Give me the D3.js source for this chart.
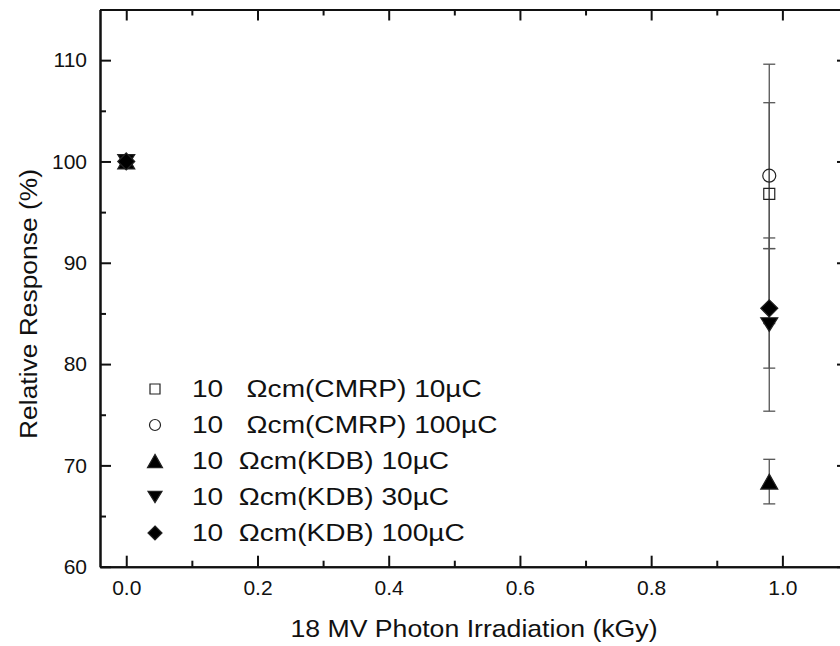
<!DOCTYPE html>
<html>
<head>
<meta charset="utf-8">
<script src="https://cdnjs.cloudflare.com/ajax/libs/d3/7.8.5/d3.min.js"></script>
<style>
  html, body { margin: 0; padding: 0; background: #ffffff; }
  svg { display: block; }
  text { font-family: "Liberation Sans", Arial, sans-serif; fill: #111; }
</style>
</head>
<body>
<svg id="chart" width="840" height="646"></svg>
<script>
// ---------------- data ----------------
const doses = [0, 0.98];
const seriesLabels = [
  "10   \u03A9cm(CMRP) 10\u00B5C",
  "10   \u03A9cm(CMRP) 100\u00B5C",
  "10  \u03A9cm(KDB) 10\u00B5C",
  "10  \u03A9cm(KDB) 30\u00B5C",
  "10  \u03A9cm(KDB) 100\u00B5C"
];
const seriesShapes = ["square", "circle", "triangleUp", "triangleDown", "diamond"];
const cmrp10 = [100, 96.8];
const cmrp10Err = [0, 12.8];
const cmrp100 = [100, 98.6];
const cmrp100Err = [0, 7.2];
const kdb10 = [100, 68.4];
const kdb10Err = [0, 2.2];
const kdb30 = [100, 83.9];
const kdb30Err = [0, 8.55];
const kdb100 = [100, 85.5];
const kdb100Err = [0, 5.9];
const xMajorTicks = [0, 0.2, 0.4, 0.6, 0.8, 1.0];
const xMinorTicks = [0.1, 0.3, 0.5, 0.7, 0.9, 1.1];
const yMajorTicks = [60, 70, 80, 90, 100, 110];
const yMinorTicks = [65, 75, 85, 95, 105, 115];
const xTitle = "18 MV Photon Irradiation (kGy)";
const yTitle = "Relative Response (%)";

const seriesValues = [cmrp10, cmrp100, kdb10, kdb30, kdb100];
const seriesErrors = [cmrp10Err, cmrp100Err, kdb10Err, kdb30Err, kdb100Err];

// ---------------- layout ----------------
const svg = d3.select("#chart");
const pLeft = 100, pRight = 848, pTop = 9.5, pBottom = 566.7;
const x = d3.scaleLinear().domain([-0.04, 1.1]).range([pLeft, pRight]);
const y = d3.scaleLinear().domain([60, 115]).range([pBottom, pTop]);

function shapePath(shape, s) {
  const h = s / 2;
  switch (shape) {
    case "square": return `M${-h},${-h}H${h}V${h}H${-h}Z`;
    case "circle": return d3.arc()({innerRadius: 0, outerRadius: h, startAngle: 0, endAngle: 2 * Math.PI});
    case "triangleUp": { const th = s * 0.88; return `M0,${-th/2}L${h},${th/2}L${-h},${th/2}Z`; }
    case "triangleDown": { const th = s * 0.8; return `M0,${th/2}L${h},${-th/2}L${-h},${-th/2}Z`; }
    case "diamond": return `M0,${-h}L${h},0L0,${h}L${-h},0Z`;
  }
}
const markerSize = {square: 11, circle: 13, triangleUp: 17, triangleDown: 17, diamond: 17};
const legendSize = {square: 10, circle: 11, triangleUp: 15, triangleDown: 14, diamond: 14};
const filled = {square: false, circle: false, triangleUp: true, triangleDown: true, diamond: true};

// ---------------- axes ----------------
const axisStyle = g => {
  g.selectAll(".domain").attr("stroke", "#111").attr("stroke-width", 2);
  g.selectAll(".tick line").attr("stroke", "#111").attr("stroke-width", 2);
  g.selectAll("text").attr("font-size", 21).attr("fill", "#111")
    .attr("font-family", "'Liberation Sans', Arial, sans-serif");
};

svg.append("g").attr("transform", `translate(0,${pBottom})`)
  .call(d3.axisBottom(x).tickValues(xMajorTicks).tickSize(-11).tickSizeOuter(0)
        .tickPadding(13).tickFormat(d3.format(".1f")))
  .call(axisStyle);
svg.append("g").attr("transform", `translate(0,${pBottom})`)
  .call(d3.axisBottom(x).tickValues(xMinorTicks).tickSize(-6).tickSizeOuter(0).tickFormat(""))
  .call(axisStyle);
svg.append("g").attr("transform", `translate(0,${pTop})`)
  .call(d3.axisTop(x).tickValues(xMajorTicks).tickSize(-11).tickSizeOuter(0).tickFormat(""))
  .call(axisStyle);
svg.append("g").attr("transform", `translate(0,${pTop})`)
  .call(d3.axisTop(x).tickValues(xMinorTicks).tickSize(-6).tickSizeOuter(0).tickFormat(""))
  .call(axisStyle);

svg.append("g").attr("transform", `translate(${pLeft},0)`)
  .call(d3.axisLeft(y).tickValues(yMajorTicks).tickSize(-11).tickSizeOuter(0)
        .tickPadding(13).tickFormat(d3.format("d")))
  .call(axisStyle);
svg.append("g").attr("transform", `translate(${pLeft},0)`)
  .call(d3.axisLeft(y).tickValues(yMinorTicks).tickSize(-6).tickSizeOuter(0).tickFormat(""))
  .call(axisStyle);
svg.append("g").attr("transform", `translate(${pRight},0)`)
  .call(d3.axisRight(y).tickValues(yMajorTicks).tickSize(-11).tickSizeOuter(0).tickFormat(""))
  .call(axisStyle);
svg.append("g").attr("transform", `translate(${pRight},0)`)
  .call(d3.axisRight(y).tickValues(yMinorTicks).tickSize(-6).tickSizeOuter(0).tickFormat(""))
  .call(axisStyle);

// axis titles
svg.append("text")
  .attr("transform", `translate(${(pLeft + pRight) / 2},637) scale(1.11,1)`)
  .attr("text-anchor", "middle").attr("font-size", 24)
  .text(xTitle);
svg.append("text")
  .attr("transform", `translate(37,304) rotate(-90) scale(1.1,1)`)
  .attr("text-anchor", "middle").attr("font-size", 24)
  .text(yTitle);

// ---------------- error bars ----------------
const plot = svg.append("g");
seriesValues.forEach((vals, si) => {
  vals.forEach((v, i) => {
    const e = seriesErrors[si][i];
    if (!e) return;
    const cx = x(doses[i]);
    const g = plot.append("g").attr("stroke", "#555").attr("stroke-width", 1.3);
    g.append("line").attr("x1", cx).attr("x2", cx).attr("y1", y(v - e)).attr("y2", y(v + e));
    g.append("line").attr("x1", cx - 6).attr("x2", cx + 6).attr("y1", y(v - e)).attr("y2", y(v - e));
    g.append("line").attr("x1", cx - 6).attr("x2", cx + 6).attr("y1", y(v + e)).attr("y2", y(v + e));
  });
});

// ---------------- markers ----------------
seriesValues.forEach((vals, si) => {
  const shape = seriesShapes[si];
  vals.forEach((v, i) => {
    plot.append("path")
      .attr("d", shapePath(shape, markerSize[shape]))
      .attr("transform", `translate(${x(doses[i])},${y(v)})`)
      .attr("fill", filled[shape] ? "#000" : "none")
      .attr("stroke", "#222").attr("stroke-width", 1.2);
  });
});

// ---------------- legend ----------------
const legend = svg.append("g");
seriesLabels.forEach((lab, si) => {
  const shape = seriesShapes[si];
  const cy = 389 + si * 36;
  legend.append("path")
    .attr("d", shapePath(shape, legendSize[shape]))
    .attr("transform", `translate(155,${cy})`)
    .attr("fill", filled[shape] ? "#000" : "none")
    .attr("stroke", "#222").attr("stroke-width", 1.2);
  legend.append("text")
    .attr("transform", `translate(192,${cy + 8}) scale(1.17,1)`)
    .attr("font-size", 24)
    .style("white-space", "pre")
    .text(lab);
});
</script>
</body>
</html>
